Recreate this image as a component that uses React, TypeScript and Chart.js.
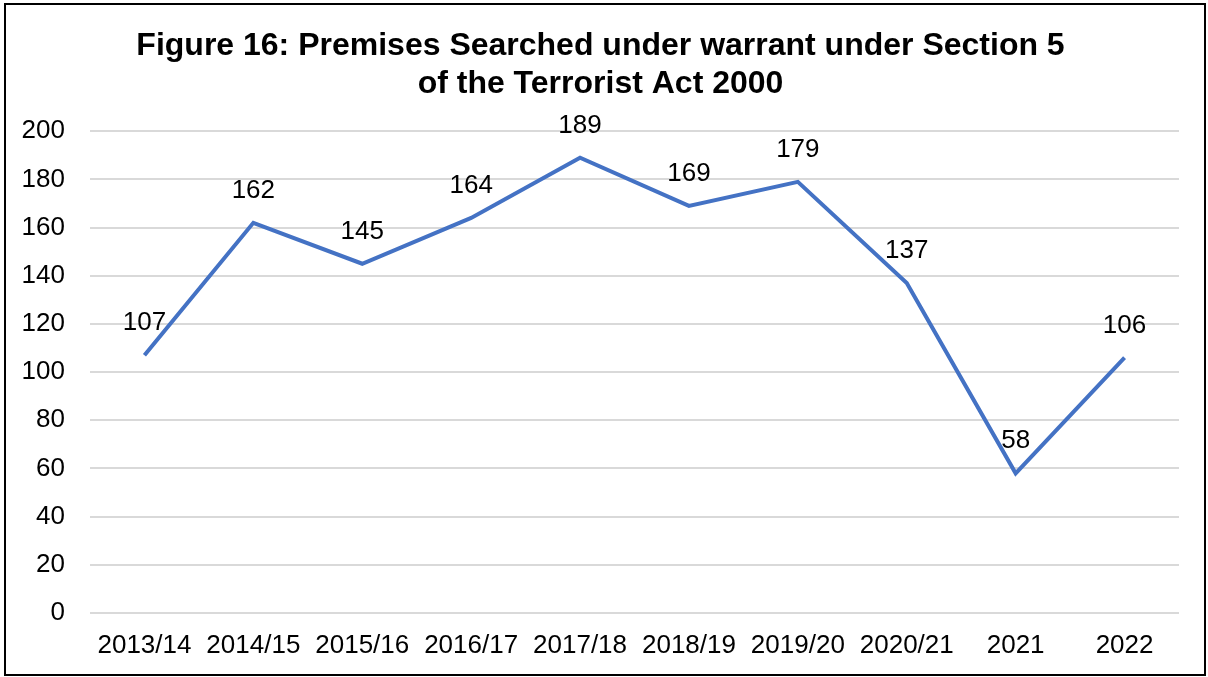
import React, { useEffect, useRef } from "react";
import { Chart, registerables } from "chart.js";

Chart.register(...registerables);

const categories = ["2013/14", "2014/15", "2015/16", "2016/17", "2017/18", "2018/19", "2019/20", "2020/21", "2021", "2022"];
const premisesSearched = [107, 162, 145, 164, 189, 169, 179, 137, 58, 106];
const titleLines = ["Figure 16: Premises Searched under warrant under Section 5", "of the Terrorist Act 2000"];

const FONT = "'Liberation Sans', Arial, sans-serif";

const valueLabels = {
  id: "valueLabels",
  afterDatasetsDraw(chart: any) {
    const ctx = chart.ctx;
    const meta = chart.getDatasetMeta(0);
    ctx.save();
    ctx.font = `26px ${FONT}`;
    ctx.fillStyle = "#000";
    ctx.textAlign = "center";
    ctx.textBaseline = "middle";
    meta.data.forEach((pt: any, i: number) => {
      ctx.fillText(String(chart.data.datasets[0].data[i]), pt.x, pt.y - 32);
    });
    ctx.restore();
  },
};

export default function App() {
  const ref = useRef<HTMLCanvasElement>(null);
  useEffect(() => {
    if (!ref.current) return;
    const chart = new Chart(ref.current, {
      type: "line",
      data: {
        labels: categories,
        datasets: [
          {
            data: premisesSearched,
            borderColor: "#4472C4",
            borderWidth: 4,
            pointRadius: 0,
            tension: 0,
            fill: false,
          },
        ],
      },
      options: {
        animation: false,
        responsive: true,
        maintainAspectRatio: false,
        layout: { padding: { left: 16, right: 25, top: 23, bottom: 13 } },
        plugins: {
          legend: { display: false },
          tooltip: { enabled: false },
          title: {
            display: true,
            text: titleLines,
            color: "#000",
            font: { family: FONT, size: 32, weight: "bold", lineHeight: 1.16 },
            padding: { top: 0, bottom: 29 },
          },
        },
        scales: {
          x: {
            offset: true,
            grid: { display: false, drawTicks: false },
            border: { display: false },
            ticks: { color: "#000", font: { family: FONT, size: 26 }, padding: 17, maxRotation: 0, autoSkip: false },
            afterFit: (s: any) => {
              s.height = 48;
            },
          },
          y: {
            min: 0,
            max: 200,
            grid: { color: "#d9d9d9", lineWidth: 2, drawTicks: false },
            border: { display: false },
            ticks: { stepSize: 20, color: "#000", font: { family: FONT, size: 26 }, padding: 25 },
            afterFit: (s: any) => {
              s.width = 68;
            },
          },
        },
      },
      plugins: [valueLabels],
    });
    return () => chart.destroy();
  }, []);
  return (
    <div
      style={{
        position: "fixed",
        left: 4,
        top: 3,
        width: 1202,
        height: 673,
        border: "2px solid #000",
        boxSizing: "border-box",
        background: "#fff",
      }}
    >
      <canvas ref={ref} />
    </div>
  );
}
